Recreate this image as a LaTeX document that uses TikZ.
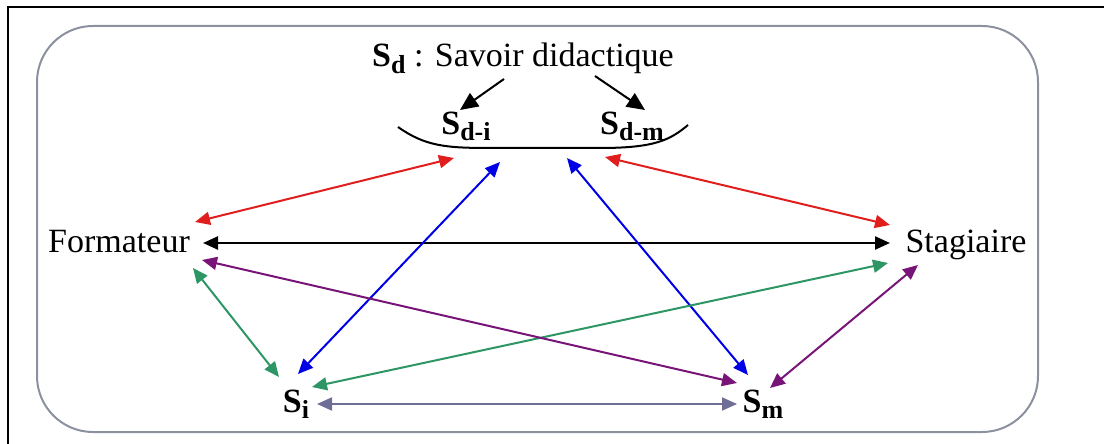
\documentclass[tikz,border=0pt]{standalone}
\usepackage{fontspec}
\setmainfont{Liberation Serif}
\usetikzlibrary{arrows.meta}
\definecolor{arrRed}{RGB}{225,30,30}
\definecolor{arrGreen}{RGB}{45,150,100}
\definecolor{arrBlue}{RGB}{0,0,230}
\definecolor{arrPurple}{RGB}{120,20,120}
\definecolor{arrGray}{RGB}{110,110,150}
\definecolor{frameGray}{RGB}{140,145,160}
\newcommand{\Ssub}[1]{\textbf{S}\raisebox{-0.2em}{\fontsize{13}{13}\selectfont\bfseries #1}}
\tikzset{
  lbl/.style={font=\fontsize{17}{20}\selectfont, inner sep=0pt, anchor=base},
  link/.style={{Triangle[length=7.5pt,width=6.5pt]}-{Triangle[length=7.5pt,width=6.5pt]},
               line width=1pt},
  pointer/.style={-{Triangle[length=9pt,width=8pt]}, line width=1pt},
  roundbox/.style={draw=frameGray, line width=1pt, rounded corners=28pt},
  % --- colours of the links ---
  redlink/.style={link, draw=arrRed, fill=arrRed},
  greenlink/.style={link, draw=arrGreen, fill=arrGreen},
  bluelink/.style={link, draw=arrBlue, fill=arrBlue},
  purplelink/.style={link, draw=arrPurple, fill=arrPurple},
  graylink/.style={link, draw=arrGray, fill=arrGray},
}
\begin{document}
\begin{tikzpicture}[x=0.5pt, y=-0.5pt]
  \useasboundingbox (0,0) rectangle (1104,444);

  % frame
  \draw[line width=1pt] (8,444) -- (8,7) -- (1104,7);
  \draw[roundbox] (37,26) rectangle (1038,432);

  % labels
  \node[lbl] (sd) at (523,67) {\Ssub{d} : Savoir didactique};
  \node[lbl] (sdi) at (466,134) {\Ssub{d-i}};
  \node[lbl] (sdm) at (632,134) {\Ssub{d-m}};
  \node[lbl] (form) at (119,252) {Formateur};
  \node[lbl] (stag) at (966,252) {Stagiaire};
  \node[lbl] (si) at (296,412) {\Ssub{i}};
  \node[lbl] (sm) at (763,412) {\Ssub{m}};

  % the curve under S_d-i and S_d-m
  \draw[line width=1pt] (398,127) .. controls (425,146) and (445,148) .. (490,148)
    -- (600,148) .. controls (655,148) and (670,140) .. (688,125);

  % connector ends
  \coordinate (sd-l) at (504,79);
  \coordinate (sd-r) at (595,76);
  \coordinate (sdi-t) at (460,110);
  \coordinate (sdm-t) at (645,110);
  \coordinate (sdi-1) at (454,158);
  \coordinate (sdi-2) at (500,162);
  \coordinate (sdm-1) at (567,158);
  \coordinate (sdm-2) at (605,157);
  \coordinate (form-1) at (195,222);
  \coordinate (form-2) at (203,243);
  \coordinate (form-3) at (202,260);
  \coordinate (form-4) at (193,268);
  \coordinate (stag-1) at (890,225);
  \coordinate (stag-2) at (890,243);
  \coordinate (stag-3) at (888,263);
  \coordinate (stag-4) at (918,265);
  \coordinate (si-1) at (279,377);
  \coordinate (si-2) at (298,374);
  \coordinate (si-3) at (312,387);
  \coordinate (si-4) at (317,404);
  \coordinate (sm-1) at (737,383);
  \coordinate (sm-2) at (748,375);
  \coordinate (sm-3) at (770,388);
  \coordinate (sm-4) at (737,404);

  \draw[pointer] (sd-l) -- (sdi-t);
  \draw[pointer] (sd-r) -- (sdm-t);

  \draw[redlink] (form-1) -- (sdi-1);
  \draw[redlink] (sdm-2) -- (stag-1);
  \draw[link, line width=1.2pt] (form-2) -- (stag-2);
  \draw[bluelink] (si-2) -- (sdi-2);
  \draw[bluelink] (sdm-1) -- (sm-2);
  \draw[greenlink] (form-4) -- (si-1);
  \draw[greenlink] (si-3) -- (stag-3);
  \draw[purplelink] (form-3) -- (sm-1);
  \draw[purplelink] (sm-3) -- (stag-4);
  \draw[graylink] (si-4) -- (sm-4);

\end{tikzpicture}
\end{document}
